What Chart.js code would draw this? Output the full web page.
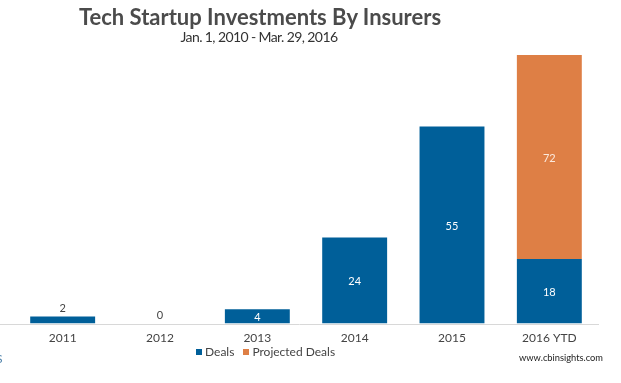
<!DOCTYPE html>
<html>
<head>
<meta charset="utf-8">
<script src="https://cdn.jsdelivr.net/npm/chart.js@4"></script>
<style>
  html, body { margin: 0; padding: 0; background: #fff; }
  #wrap { position: relative; width: 621px; height: 383px; overflow: hidden; }
  #c { position: absolute; left: 0; top: 0; }
  .txt { position: absolute; white-space: nowrap; font-family: Lato, "Open Sans", sans-serif; }
  #title { left: 0; width: 520px; top: 3px; text-align: center; font-size: 22px; font-weight: bold; color: #4b4b4b; }
  #subtitle { left: 0; width: 518px; top: 28px; text-align: center; font-size: 14px; letter-spacing: -0.6px; color: #333; }
  #legend { left: 196px; top: 344px; font-size: 12px; color: #444; }
  #legend span.box { display: inline-block; width: 6px; height: 6px; margin-right: 3px; vertical-align: 1px; }
  #legend span.item { margin-right: 9px; }
  #source { left: 519px; top: 352px; font-size: 9.3px; color: #222; }
  #logo { left: -4px; top: 351px; font-size: 12px; color: #4a7fa8; }
</style>
</head>
<body>
<div id="wrap">
  <canvas id="c" width="621" height="383"></canvas>
  <div class="txt" id="title">Tech Startup Investments By Insurers</div>
  <div class="txt" id="subtitle">Jan. 1, 2010 - Mar. 29, 2016</div>
  <div class="txt" id="legend"><span class="item"><span class="box" style="background:#005f99"></span>Deals</span><span class="item"><span class="box" style="background:#de7f45"></span>Projected Deals</span></div>
  <div class="txt" id="source">www.cbinsights.com</div>
  <div class="txt" id="logo">S</div>
</div>
<script>
const categories = ["2011", "2012", "2013", "2014", "2015", "2016 YTD"];
const deals = [2, 0, 4, 24, 55, 18];
const projectedDeals = [0, 0, 0, 0, 0, 57];
const dealLabels = ["2", "0", "4", "24", "55", "18"];
const projectedLabels = ["", "", "", "", "", "72"];

const BLUE = "#005f99";
const ORANGE = "#de7f45";

const baselinePlugin = {
  id: "baseline",
  afterDatasetsDraw(chart) {
    const ctx = chart.ctx;
    const y = Math.round(chart.scales.y.getPixelForValue(0)) + 0.5;
    ctx.save();
    ctx.strokeStyle = "#d8d8d8";
    ctx.lineWidth = 1;
    ctx.beginPath();
    ctx.moveTo(0, y);
    ctx.lineTo(599, y);
    ctx.stroke();
    ctx.restore();
  }
};

const labelPlugin = {
  id: "barLabels",
  afterDatasetsDraw(chart) {
    const ctx = chart.ctx;
    ctx.save();
    ctx.font = "11px Lato, 'Open Sans', sans-serif";
    ctx.textAlign = "center";
    ctx.textBaseline = "middle";
    const sets = [dealLabels, projectedLabels];
    sets.forEach((labels, di) => {
      const meta = chart.getDatasetMeta(di);
      meta.data.forEach((bar, i) => {
        const txt = labels[i];
        if (!txt) return;
        const top = Math.min(bar.y, bar.base);
        const bottom = Math.max(bar.y, bar.base);
        const h = bottom - top;
        if (h < 12) {
          ctx.fillStyle = "#444";
          ctx.fillText(txt, bar.x, top - 8);
        } else {
          ctx.fillStyle = di === 1 ? "#fbe9dc" : "#ffffff";
          ctx.fillText(txt, bar.x, (top + bottom) / 2 + 1);
        }
      });
    });
    ctx.restore();
  }
};

new Chart(document.getElementById("c"), {
  type: "bar",
  data: {
    labels: categories,
    datasets: [
      { label: "Deals", data: deals, backgroundColor: BLUE, borderWidth: 0 },
      { label: "Projected Deals", data: projectedDeals, backgroundColor: ORANGE, borderWidth: 0 }
    ]
  },
  options: {
    responsive: false,
    animation: false,
    devicePixelRatio: 1,
    layout: { padding: { left: 14, right: 23, top: 37, bottom: 31 } },
    plugins: { legend: { display: false }, title: { display: false }, tooltip: { enabled: false } },
    datasets: { bar: { categoryPercentage: 1, barPercentage: 0.667 } },
    scales: {
      x: {
        stacked: true,
        grid: { display: false, drawTicks: false },
        border: { display: false },
        ticks: { color: "#444", font: { family: "Lato, 'Open Sans', sans-serif", size: 12 }, padding: 7 }
      },
      y: {
        stacked: true,
        display: false,
        min: 0,
        max: 80
      }
    }
  },
  plugins: [baselinePlugin, labelPlugin]
});
</script>
</body>
</html>
